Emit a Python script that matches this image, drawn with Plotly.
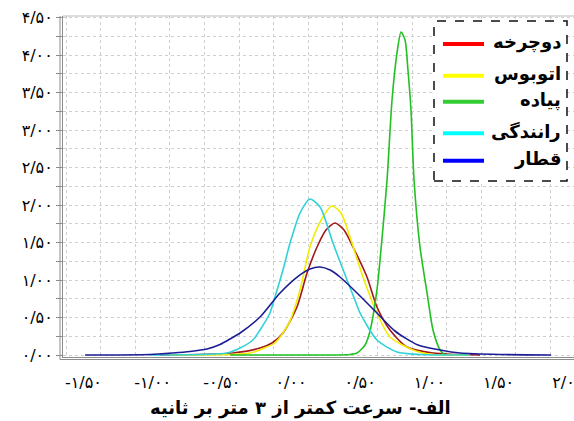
import plotly.graph_objects as go

# ---------------- data ----------------
series_names = ["دوچرخه", "اتوبوس", "پیاده", "رانندگی", "قطار"]

bike_x = [-0.947, -0.419, -0.224, -0.137, -0.058, 0.043, 0.116, 0.188, 0.253, 0.318,
          0.383, 0.448, 0.549, 0.621, 0.715, 0.838, 1.026, 1.366]
bike_y = [0, 0.027, 0.093, 0.16, 0.293, 0.64, 1.093, 1.44, 1.667, 1.76,
          1.667, 1.44, 1.04, 0.64, 0.333, 0.107, 0.027, 0]

bus_x = [-0.874, -0.441, -0.296, -0.210, -0.116, -0.014, 0.065, 0.137, 0.210, 0.296,
         0.361, 0.426, 0.520, 0.621, 0.715, 0.882, 1.026, 1.293]
bus_y = [0, 0.007, 0.027, 0.08, 0.16, 0.427, 0.867, 1.44, 1.773, 1.987,
         1.893, 1.573, 1.04, 0.56, 0.24, 0.067, 0.007, 0]

walk_x = [-0.441, 0.246, 0.426, 0.477, 0.535, 0.571, 0.621, 0.650, 0.694, 0.730, 0.766,
          0.795, 0.824, 0.845, 0.867, 0.889, 0.932, 0.983, 1.026, 1.077, 1.113]
walk_y = [0, 0, 0.007, 0.027, 0.133, 0.32, 0.867, 1.4, 2.333, 3.4, 4.027,
          4.307, 4.2, 3.8, 3.267, 2.333, 1.44, 0.827, 0.333, 0.067, 0]

drive_x = [-1.019, -0.658, -0.462, -0.368, -0.275, -0.224, -0.152, -0.116, -0.058, -0.007,
           0.065, 0.137, 0.210, 0.303, 0.405, 0.462, 0.499, 0.621, 0.766, 0.932, 1.293]
drive_y = [0, 0.007, 0.027, 0.093, 0.2, 0.333, 0.56, 0.773, 1.133, 1.493,
           1.893, 2.08, 1.973, 1.493, 1.0, 0.733, 0.56, 0.2, 0.04, 0.007, 0]

train_x = [-1.488, -1.019, -0.853, -0.730, -0.607, -0.513, -0.441, -0.368, -0.224, -0.079,
           0.065, 0.137, 0.210, 0.282, 0.354, 0.477, 0.621, 0.751, 0.918, 1.077, 1.221,
           1.510, 1.879]
train_y = [0, 0.007, 0.027, 0.047, 0.08, 0.14, 0.213, 0.293, 0.507, 0.827,
           1.067, 1.147, 1.173, 1.133, 1.04, 0.827, 0.56, 0.32, 0.133, 0.067, 0.027,
           0.007, 0]

x_tick_vals = [-1.5, -1.0, -0.5, 0.0, 0.5, 1.0, 1.5, 2.0]
x_tick_text = ["-۱/۵۰", "-۱/۰۰", "-۰/۵۰", "۰/۰۰", "۰/۵۰", "۱/۰۰", "۱/۵۰", "۲/۰۰"]
y_tick_vals = [0.0, 0.5, 1.0, 1.5, 2.0, 2.5, 3.0, 3.5, 4.0, 4.5]
y_tick_text = ["۰/۰۰", "۰/۵۰", "۱/۰۰", "۱/۵۰", "۲/۰۰", "۲/۵۰", "۳/۰۰", "۳/۵۰", "۴/۰۰", "۴/۵۰"]

title_text = "الف- سرعت کمتر از ۳ متر بر ثانیه"

# ---------------- styling ----------------
curve_colors = ["#A01818", "#F2EC00", "#22C022", "#30D2DA", "#1C1C96"]
legend_colors = ["#FF0000", "#FFFF00", "#33CC33", "#00FFFF", "#0000FF"]

W, H = 574, 421
ML, MR, MT, MB = 63, 0, 16, 64
PW, PH = W - ML - MR, H - MT - MB
X0_PX, X_SCALE = 291.0, 138.4      # pixel of x=0, pixels per unit
Y0_PX, Y_SCALE = 355.0, 75.0       # pixel of y=0, pixels per unit


def px_x(p):
    return (p - ML) / PW


def px_y(p):
    return (H - MB - p) / PH


fig = go.Figure()
all_series = [(bike_x, bike_y), (bus_x, bus_y), (walk_x, walk_y),
              (drive_x, drive_y), (train_x, train_y)]
for name, (xs, ys), col in zip(series_names, all_series, curve_colors):
    fig.add_trace(go.Scatter(
        x=xs, y=ys, mode="lines", name=name, showlegend=False,
        line=dict(color=col, width=1.6, shape="spline", smoothing=0.7),
        hoverinfo="skip"))

shapes = []
axis_gray = "#8c8c8c"
# second (outer) axis lines
shapes.append(dict(type="line", xref="paper", yref="paper",
                   x0=px_x(60), x1=px_x(60), y0=px_y(359.5), y1=1,
                   line=dict(color=axis_gray, width=1)))
shapes.append(dict(type="line", xref="paper", yref="paper",
                   x0=px_x(60), x1=1.02, y0=px_y(359.5), y1=px_y(359.5),
                   line=dict(color=axis_gray, width=1)))
# top frame
shapes.append(dict(type="line", xref="paper", yref="paper",
                   x0=0, x1=1.02, y0=1, y1=1,
                   line=dict(color="#bdbdbd", width=1)))
# legend box
shapes.append(dict(type="rect", xref="paper", yref="paper", layer="above",
                   x0=px_x(434), x1=px_x(567), y0=px_y(181), y1=px_y(21),
                   line=dict(color="#111111", width=1.5, dash="dash"),
                   fillcolor="white"))
legend_rows = [44, 75.7, 101.7, 133.3, 160.7]
annotations = []
for name, col, ry in zip(series_names, legend_colors, legend_rows):
    shapes.append(dict(type="line", xref="paper", yref="paper", layer="above",
                       x0=px_x(443), x1=px_x(484), y0=px_y(ry), y1=px_y(ry),
                       line=dict(color=col, width=4)))
    annotations.append(dict(text="<b>%s</b>" % name, xref="paper", yref="paper",
                            x=px_x(563), y=px_y(ry - 2), xanchor="right",
                            yanchor="middle", showarrow=False,
                            font=dict(family="DejaVu Sans", size=18, color="black")))

annotations.append(dict(text="<b>%s</b>" % title_text, xref="paper", yref="paper",
                        x=px_x(300), y=px_y(408), xanchor="center", yanchor="middle",
                        showarrow=False,
                        font=dict(family="DejaVu Sans", size=18, color="black")))

grid_col = "#cfcfcf"
fig.update_layout(
    width=W, height=H,
    margin=dict(l=ML, r=MR, t=MT, b=MB, pad=0, autoexpand=False),
    paper_bgcolor="white", plot_bgcolor="white",
    showlegend=False,
    shapes=shapes, annotations=annotations,
    xaxis=dict(
        range=[(ML - X0_PX) / X_SCALE, (W - X0_PX) / X_SCALE],
        automargin=False,
        tickmode="array", tickvals=x_tick_vals, ticktext=x_tick_text,
        showgrid=False, zeroline=False,
        showline=True, linecolor=axis_gray, linewidth=1,
        ticks="", ticklabelstandoff=11, ticklabeloverflow="allow",
        tickfont=dict(family="DejaVu Sans", size=16, color="black"),
        minor=dict(tick0=(66 - X0_PX) / X_SCALE, dtick=0.25, showgrid=True,
                   gridcolor=grid_col, griddash="dot", gridwidth=1, ticks=""),
    ),
    yaxis=dict(
        range=[(Y0_PX - (H - MB)) / Y_SCALE, (Y0_PX - MT) / Y_SCALE],
        automargin=False,
        tickmode="array", tickvals=y_tick_vals, ticktext=y_tick_text,
        showgrid=True, gridcolor=grid_col, griddash="dot", gridwidth=1,
        zeroline=False,
        showline=True, linecolor=axis_gray, linewidth=1,
        ticks="outside", ticklen=6, tickcolor=axis_gray, tickwidth=1,
        tickfont=dict(family="DejaVu Sans", size=16, color="black"),
        minor=dict(dtick=0.25, tick0=0, showgrid=True, gridcolor=grid_col,
                   griddash="dot", gridwidth=1, ticks="outside", ticklen=6,
                   tickcolor=axis_gray),
    ),
)

fig.write_html("out.html")
